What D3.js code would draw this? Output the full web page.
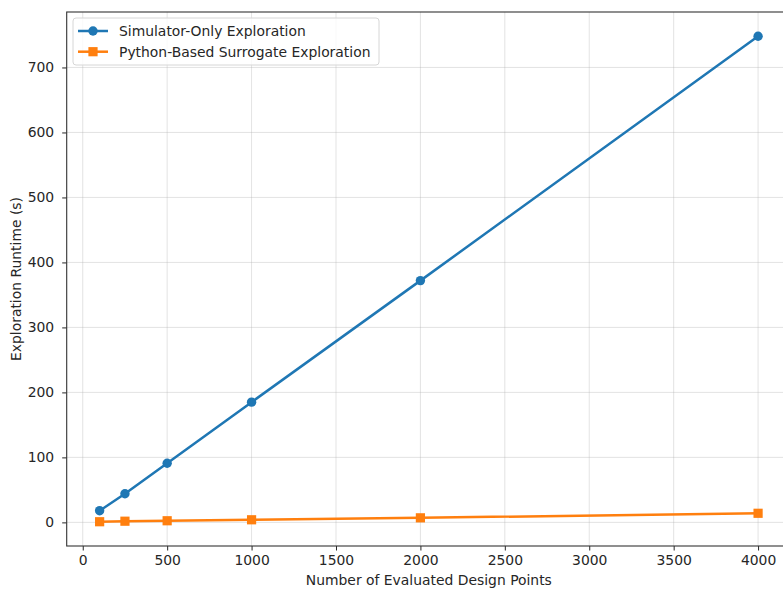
<!DOCTYPE html>
<html>
<head>
<meta charset="utf-8">
<script src="https://cdn.jsdelivr.net/npm/d3@7"></script>
<style>
  html, body { margin: 0; padding: 0; background: #fff; }
  svg { display: block; }
  text { font-family: "DejaVu Sans", sans-serif; fill: #262626; }
</style>
</head>
<body>
<script>
// Runtime of design-space exploration vs. number of evaluated points
const designPoints = [100, 250, 500, 1000, 2000, 4000];
const simulatorOnly = [18, 44, 91, 185, 372, 748];
const surrogate = [1, 1.8, 2.5, 4, 7, 14];
const xTicks = [0, 500, 1000, 1500, 2000, 2500, 3000, 3500, 4000];
const yTicks = [0, 100, 200, 300, 400, 500, 600, 700];
const seriesNames = ["Simulator-Only Exploration", "Python-Based Surrogate Exploration"];
const seriesColors = ["#1f77b4", "#ff7f0e"];

const W = 783, H = 589;
const FS = 13.9;
const plot = { left: 66.7, right: 791, top: 12, bottom: 546 };

const svg = d3.select("body").append("svg").attr("width", W).attr("height", H);

// matplotlib-style 5% margins around the data
const xMin = d3.min(designPoints), xMax = d3.max(designPoints);
const allY = simulatorOnly.concat(surrogate);
const yMin = d3.min(allY), yMax = d3.max(allY);
const xPad = (xMax - xMin) * 0.05, yPad = (yMax - yMin) * 0.05;

const x = d3.scaleLinear().domain([xMin - xPad, xMax + xPad]).range([plot.left, plot.right]);
const y = d3.scaleLinear().domain([yMin - yPad, yMax + yPad]).range([plot.bottom, plot.top]);

svg.append("clipPath").attr("id", "plotclip")
  .append("rect").attr("x", plot.left).attr("y", plot.top)
  .attr("width", plot.right - plot.left).attr("height", plot.bottom - plot.top);

// grid
const grid = svg.append("g").attr("stroke", "#b0b0b0").attr("stroke-opacity", 0.35).attr("stroke-width", 1);
grid.selectAll("line.gx").data(xTicks).join("line")
  .attr("x1", d => x(d)).attr("x2", d => x(d)).attr("y1", plot.top).attr("y2", plot.bottom);
grid.selectAll("line.gy").data(yTicks).join("line")
  .attr("x1", plot.left).attr("x2", plot.right).attr("y1", d => y(d)).attr("y2", d => y(d));

// axes
const xAxis = svg.append("g").attr("transform", `translate(0,${plot.bottom})`)
  .call(d3.axisBottom(x).tickValues(xTicks).tickSize(4.5).tickPadding(5).tickFormat(d3.format("d")));
const yAxis = svg.append("g").attr("transform", `translate(${plot.left},0)`)
  .call(d3.axisLeft(y).tickValues(yTicks).tickSize(4.5).tickPadding(8).tickFormat(d3.format("d")));
[xAxis, yAxis].forEach(a => {
  a.attr("font-size", FS).attr("font-family", "'DejaVu Sans', sans-serif");
  a.select(".domain").remove();
  a.selectAll("line").attr("stroke", "#262626").attr("stroke-width", 1);
  a.selectAll("text").attr("fill", "#262626");
});

// spines
svg.append("rect").attr("x", plot.left).attr("y", plot.top)
  .attr("width", plot.right - plot.left).attr("height", plot.bottom - plot.top)
  .attr("fill", "none").attr("stroke", "#333").attr("stroke-width", 1.1);

// axis labels
svg.append("text").attr("x", (plot.left + plot.right) / 2).attr("y", 585)
  .attr("text-anchor", "middle").attr("font-size", FS).text("Number of Evaluated Design Points");
svg.append("text").attr("transform", `translate(21,${(plot.top + plot.bottom) / 2}) rotate(-90)`)
  .attr("text-anchor", "middle").attr("font-size", FS).text("Exploration Runtime (s)");

// series
const series = [simulatorOnly, surrogate];
const line = d3.line().x(d => x(d[0])).y(d => y(d[1]));
const plotG = svg.append("g").attr("clip-path", "url(#plotclip)");
series.forEach((vals, i) => {
  const pts = designPoints.map((p, j) => [p, vals[j]]);
  plotG.append("path").datum(pts).attr("d", line)
    .attr("fill", "none").attr("stroke", seriesColors[i]).attr("stroke-width", 2.5)
    .attr("stroke-linejoin", "round").attr("stroke-linecap", "square");
  if (i === 0) {
    plotG.selectAll("circle.m0").data(pts).join("circle")
      .attr("cx", d => x(d[0])).attr("cy", d => y(d[1])).attr("r", 4.7)
      .attr("fill", seriesColors[i]);
  } else {
    plotG.selectAll("rect.m1").data(pts).join("rect")
      .attr("x", d => x(d[0]) - 4.6).attr("y", d => y(d[1]) - 4.6)
      .attr("width", 9.2).attr("height", 9.2).attr("fill", seriesColors[i]);
  }
});

// legend
const lg = svg.append("g");
lg.append("rect").attr("x", 73).attr("y", 18).attr("width", 306).attr("height", 47)
  .attr("rx", 3).attr("fill", "#fff").attr("fill-opacity", 0.8)
  .attr("stroke", "#d6d6d6").attr("stroke-width", 1);
seriesNames.forEach((name, i) => {
  const cy = 31 + i * 20.7;
  lg.append("line").attr("x1", 78).attr("x2", 108).attr("y1", cy).attr("y2", cy)
    .attr("stroke", seriesColors[i]).attr("stroke-width", 2.5);
  if (i === 0) {
    lg.append("circle").attr("cx", 93).attr("cy", cy).attr("r", 4.7).attr("fill", seriesColors[i]);
  } else {
    lg.append("rect").attr("x", 93 - 4.6).attr("y", cy - 4.6).attr("width", 9.2).attr("height", 9.2)
      .attr("fill", seriesColors[i]);
  }
  lg.append("text").attr("x", 119).attr("y", cy).attr("dy", "0.35em")
    .attr("font-size", FS).text(name);
});
</script>
</body>
</html>
